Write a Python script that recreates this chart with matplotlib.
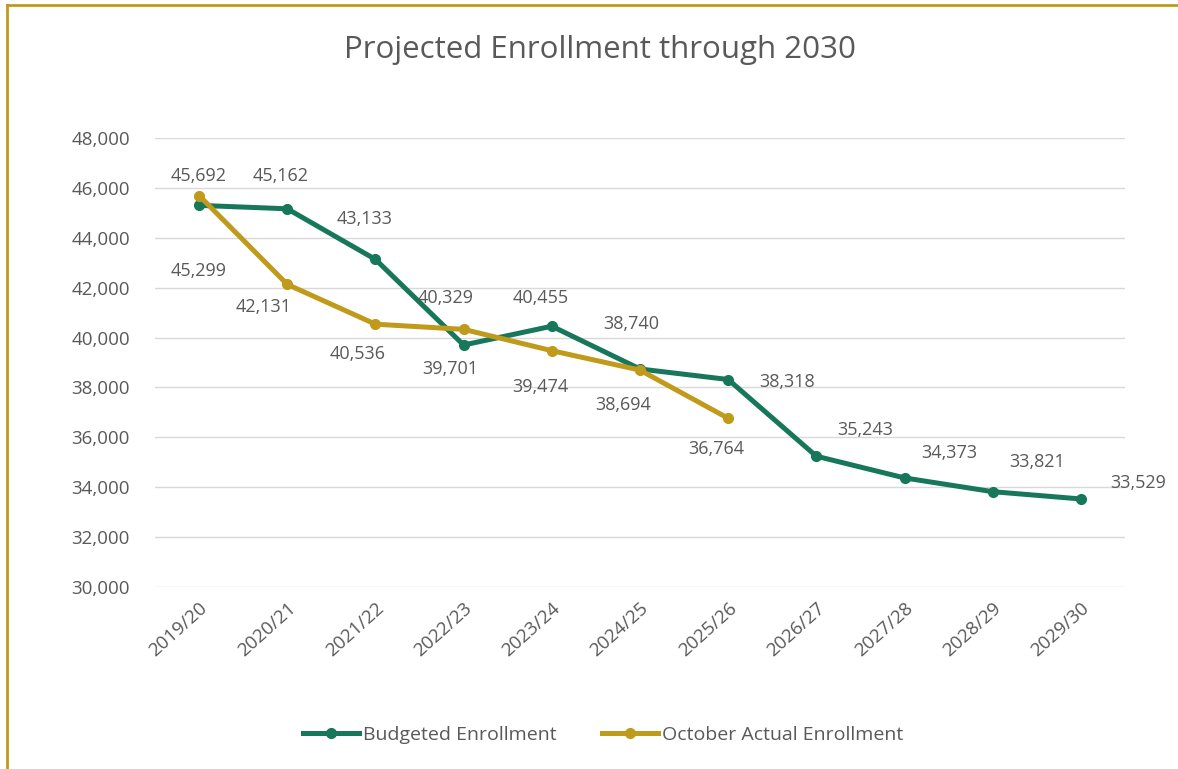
import matplotlib.pyplot as plt
from matplotlib.lines import Line2D

plt.rcParams['font.family'] = ['Open Sans', 'DejaVu Sans']

years = ["2019/20", "2020/21", "2021/22", "2022/23", "2023/24", "2024/25",
         "2025/26", "2026/27", "2027/28", "2028/29", "2029/30"]
budgeted = [45299, 45162, 43133, 39701, 40455, 38740, 38318, 35243, 34373, 33821, 33529]
october = [45692, 42131, 40536, 40329, 39474, 38694, 36764]

# label offsets in pixels (dx, dy), Excel placed them by hand
budget_off = [(0, -66), (-7, 33), (-11, 40), (-13, -24), (-11, 28), (-9, 45),
              (59, -2), (49, 26), (45, 25), (44, 30), (57, 16)]
october_off = [(0, 20), (-24, -23), (-18, -30), (-18, 31), (-11, -36), (-17, -35), (-12, -31)]

green = '#17775b'
gold = '#c09a1b'
txt = '#595959'

fig = plt.figure(figsize=(11.78, 7.69), dpi=100)
ax = fig.add_axes([155 / 1178, 1 - 587 / 769, 970 / 1178, 449 / 769])

x = list(range(len(years)))
ax.plot(x, budgeted, color=green, lw=3.6, marker='o', ms=7, zorder=3)
ax.plot(x[:len(october)], october, color=gold, lw=3.6, marker='o', ms=7, zorder=4)

for i, v in enumerate(budgeted):
    ax.annotate(f"{v:,}", (i, v), xytext=budget_off[i], textcoords='offset pixels',
                ha='center', va='center', fontsize=13, color=txt)
for i, v in enumerate(october):
    ax.annotate(f"{v:,}", (i, v), xytext=october_off[i], textcoords='offset pixels',
                ha='center', va='center', fontsize=13, color=txt)

ax.set_xlim(-0.5, len(years) - 0.5)
ax.set_ylim(30000, 48000)
ax.set_yticks(range(30000, 48001, 2000))
ax.set_yticklabels([f"{t:,}" for t in range(30000, 48001, 2000)])
ax.set_xticks(x)
ax.set_xticklabels(years, rotation=42, ha='right', rotation_mode='anchor')
ax.tick_params(axis='both', length=0, labelsize=13.5, labelcolor=txt)
ax.tick_params(axis='y', pad=18)
ax.tick_params(axis='x', pad=9)
ax.grid(axis='y', color='#d9d9d9', lw=1)
ax.set_axisbelow(True)
for s in ax.spines.values():
    s.set_visible(False)

fig.text(600 / 1178, 1 - 50 / 769, "Projected Enrollment through 2030",
         ha='center', va='center', fontsize=22.5, color=txt)

handles = [Line2D([], [], color=green, lw=3.6, marker='o', ms=7),
           Line2D([], [], color=gold, lw=3.6, marker='o', ms=7)]
fig.legend(handles, ["Budgeted Enrollment", "October Actual Enrollment"],
           loc='center', bbox_to_anchor=(603 / 1178, 1 - 735 / 769), ncol=2,
           frameon=False, fontsize=14, labelcolor=txt, handlelength=2.9,
           handletextpad=0.2, columnspacing=2.3)

# gold frame edges (top and left are visible in the screenshot)
fig.add_artist(Line2D([7 / 1178, 1], [1 - 5 / 769, 1 - 5 / 769], color=gold, lw=2))
fig.add_artist(Line2D([7 / 1178, 7 / 1178], [0, 1 - 5 / 769], color=gold, lw=2))

fig.savefig('out.png', dpi=100)
